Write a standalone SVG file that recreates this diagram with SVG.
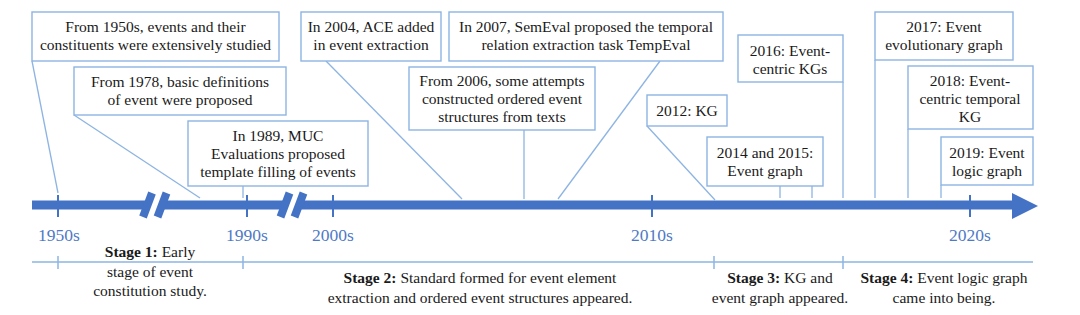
<svg xmlns="http://www.w3.org/2000/svg" width="1080" height="315" viewBox="0 0 1080 315">
<style>
.box{fill:#fff;stroke:#8db4e2;stroke-width:1.4}
.con{stroke:#8db4e2;stroke-width:1.3;fill:none}
.t{font-family:'Liberation Serif','Times New Roman',serif;font-size:15.5px;fill:#1a1a1a;text-anchor:middle}
.yr{font-family:'Liberation Serif','Times New Roman',serif;font-size:17.5px;fill:#4f79c6;text-anchor:middle}
.b{font-weight:bold}
.axis{stroke:#4472c4;stroke-width:9;fill:none}
.tick{stroke:#4472c4;stroke-width:2}
.brk{stroke:#4472c4;stroke-width:8}
.stg{stroke:#8db4e2;stroke-width:1.5}
</style>
<rect width="1080" height="315" fill="#fff"/>
<g id="connectors">
<line class="con" x1="32" y1="61" x2="58" y2="193"/>
<line class="con" x1="74" y1="115" x2="200" y2="198"/>
<line class="con" x1="243" y1="186" x2="243" y2="198"/>
<line class="con" x1="326" y1="61" x2="462" y2="199"/>
<line class="con" x1="660" y1="61" x2="558" y2="199"/>
<line class="con" x1="524" y1="130" x2="524" y2="199"/>
<line class="con" x1="647" y1="126" x2="715" y2="200"/>
<line class="con" x1="780" y1="186" x2="780" y2="198"/>
<line class="con" x1="812" y1="186" x2="812" y2="198"/>
<line class="con" x1="843" y1="82" x2="843" y2="198"/>
<line class="con" x1="875" y1="60" x2="875" y2="198"/>
<line class="con" x1="908" y1="129" x2="908" y2="198"/>
<line class="con" x1="941" y1="185" x2="941" y2="198"/>
</g>
<g id="axis">
<line class="axis" x1="32" y1="205" x2="149" y2="205"/>
<line class="axis" x1="160" y1="205" x2="287" y2="205"/>
<line class="axis" x1="297" y1="205" x2="1014" y2="205"/>
<polygon points="1012,193 1038,206 1012,219" fill="#4472c4"/>
<line class="brk" x1="152" y1="193" x2="143" y2="217"/>
<line class="brk" x1="166.5" y1="193" x2="157.5" y2="217"/>
<line class="brk" x1="289.5" y1="193" x2="280.5" y2="217"/>
<line class="brk" x1="303.5" y1="193" x2="294.5" y2="217"/>
<line class="tick" x1="58" y1="195" x2="58" y2="217"/>
<line class="tick" x1="247" y1="195" x2="247" y2="217"/>
<line class="tick" x1="333" y1="195" x2="333" y2="217"/>
<line class="tick" x1="652" y1="195" x2="652" y2="217"/>
<line class="tick" x1="970" y1="195" x2="970" y2="217"/>
<text class="yr" x="59" y="241">1950s</text>
<text class="yr" x="247" y="241">1990s</text>
<text class="yr" x="333" y="241">2000s</text>
<text class="yr" x="652" y="241">2010s</text>
<text class="yr" x="970" y="241">2020s</text>
</g>
<g id="n1"><rect class="box" x="32" y="12" width="247" height="49"/>
<text class="t" x="155.5" y="32">From 1950s, events and their</text>
<text class="t" x="155.5" y="50">constituents were extensively studied</text></g>
<g id="n2"><rect class="box" x="74" y="67" width="212" height="48"/>
<text class="t" x="180" y="87">From 1978, basic definitions</text>
<text class="t" x="180" y="105">of event were proposed</text></g>
<g id="n3"><rect class="box" x="188" y="121" width="180" height="65"/>
<text class="t" x="278" y="141">In 1989, MUC</text>
<text class="t" x="278" y="159">Evaluations proposed</text>
<text class="t" x="278" y="177">template filling of events</text></g>
<g id="n4"><rect class="box" x="301" y="12" width="140" height="49"/>
<text class="t" x="371" y="32">In 2004, ACE added</text>
<text class="t" x="371" y="50">in event extraction</text></g>
<g id="n5"><rect class="box" x="449" y="12" width="274" height="49"/>
<text class="t" x="586" y="32">In 2007, SemEval proposed the temporal</text>
<text class="t" x="586" y="50">relation extraction task TempEval</text></g>
<g id="n6"><rect class="box" x="409" y="67" width="186" height="63"/>
<text class="t" x="502" y="86">From 2006, some attempts</text>
<text class="t" x="502" y="104">constructed ordered event</text>
<text class="t" x="502" y="122">structures from texts</text></g>
<g id="n7"><rect class="box" x="647" y="95" width="80" height="31"/>
<text class="t" x="687" y="116">2012: KG</text></g>
<g id="n8"><rect class="box" x="707" y="137" width="116" height="49"/>
<text class="t" x="765" y="158">2014 and 2015:</text>
<text class="t" x="765" y="176">Event graph</text></g>
<g id="n9"><rect class="box" x="738" y="35" width="105" height="47"/>
<text class="t" x="790" y="56">2016: Event-</text>
<text class="t" x="790" y="74">centric KGs</text></g>
<g id="n10"><rect class="box" x="875" y="12" width="138" height="48"/>
<text class="t" x="944" y="32">2017: Event</text>
<text class="t" x="944" y="50">evolutionary graph</text></g>
<g id="n11"><rect class="box" x="908" y="66" width="125" height="63"/>
<text class="t" x="970" y="86">2018: Event-</text>
<text class="t" x="970" y="104">centric temporal</text>
<text class="t" x="970" y="122">KG</text></g>
<g id="n12"><rect class="box" x="941" y="137" width="92" height="48"/>
<text class="t" x="987" y="158">2019: Event</text>
<text class="t" x="987" y="176">logic graph</text></g>
<g id="stages">
<line class="stg" x1="32" y1="262" x2="1033" y2="262"/>
<line class="stg" x1="58" y1="256" x2="58" y2="269"/>
<line class="stg" x1="243" y1="256" x2="243" y2="269"/>
<line class="stg" x1="714" y1="256" x2="714" y2="269"/>
<line class="stg" x1="843" y1="256" x2="843" y2="269"/>
<text class="t" x="150" y="257"><tspan class="b">Stage 1:</tspan> Early</text>
<text class="t" x="150" y="277">stage of event</text>
<text class="t" x="150" y="296">constitution study.</text>
<text class="t" x="480" y="283"><tspan class="b">Stage 2:</tspan> Standard formed for event element</text>
<text class="t" x="480" y="303">extraction and ordered event structures appeared.</text>
<text class="t" x="780" y="283"><tspan class="b">Stage 3:</tspan> KG and</text>
<text class="t" x="780" y="303">event graph appeared.</text>
<text class="t" x="944" y="283"><tspan class="b">Stage 4:</tspan> Event logic graph</text>
<text class="t" x="944" y="303">came into being.</text>
</g>
</svg>
